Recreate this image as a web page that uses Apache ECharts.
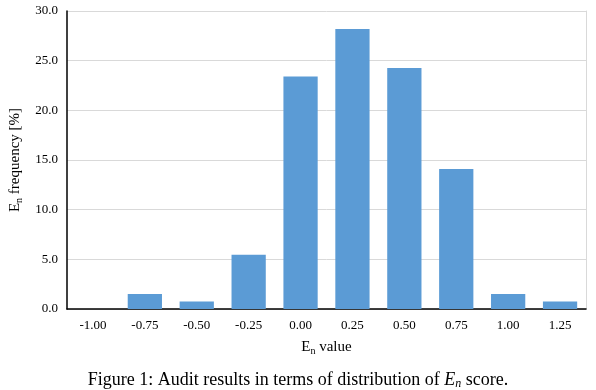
<!DOCTYPE html>
<html><head><meta charset="utf-8">
<script src="https://cdn.jsdelivr.net/npm/echarts@6/dist/echarts.min.js"></script>
<style>html,body{margin:0;padding:0;background:#fff}#c{width:596px;height:390px}</style>
</head><body><div id="c"></div>
<script>
const categories = ['-1.00','-0.75','-0.50','-0.25','0.00','0.25','0.50','0.75','1.00','1.25'];
const frequency = [0, 1.5, 0.75, 5.45, 23.4, 28.2, 24.25, 14.1, 1.5, 0.75];
const yTicks = {min: 0, max: 30, interval: 5};

const font = 'Liberation Serif';
const chart = echarts.init(document.getElementById('c'), null, {renderer: 'canvas'});
chart.setOption({
  animation: false,
  backgroundColor: '#fff',
  textStyle: {fontFamily: font},
  title: {
    text: '{a|Figure 1: Audit results in terms of distribution of }{i|E}{si|n}{a| score.}',
    left: 'center', top: 365,
    textStyle: {
      fontWeight: 'normal',
      rich: {
        a: {fontFamily: font, fontSize: 18, fontWeight: 'normal', color: '#000'},
        i: {fontFamily: font, fontSize: 18, fontWeight: 'normal', fontStyle: 'italic', color: '#000'},
        si: {fontFamily: font, fontSize: 12, fontWeight: 'normal', fontStyle: 'italic', color: '#000', padding: [8, 0, 0, 0]}
      }
    }
  },
  grid: {left: 66, right: 10, top: 11, bottom: 81, containLabel: false},
  xAxis: {
    type: 'category', data: categories,
    axisLine: {lineStyle: {color: '#000', width: 1.5}},
    axisTick: {show: false},
    axisLabel: {color: '#000', fontSize: 13, fontFamily: font, margin: 10},
    name: '{a|E}{s|n}{a| value}',
    nameLocation: 'middle', nameGap: 30,
    nameTextStyle: {rich: {
      a: {fontFamily: font, fontSize: 15, color: '#000'},
      s: {fontFamily: font, fontSize: 10, color: '#000', padding: [7, 0, 0, 0]}
    }}
  },
  yAxis: [{
    type: 'value', min: yTicks.min, max: yTicks.max, interval: yTicks.interval,
    axisLine: {show: true, lineStyle: {color: '#000', width: 1.5}},
    axisTick: {show: false},
    splitLine: {lineStyle: {color: '#d9d9d9'}},
    axisLabel: {color: '#000', fontSize: 13, fontFamily: font, margin: 9,
      formatter: v => v.toFixed(1)},
    name: '{a|E}{s|n}{a| frequency [%]}',
    nameLocation: 'middle', nameGap: 43, nameRotate: 90,
    nameTextStyle: {rich: {
      a: {fontFamily: font, fontSize: 15, color: '#000'},
      s: {fontFamily: font, fontSize: 10, color: '#000', padding: [7, 0, 0, 0]}
    }}
  }, {
    type: 'value', min: yTicks.min, max: yTicks.max, interval: yTicks.interval,
    position: 'right',
    axisLine: {show: true, lineStyle: {color: '#d9d9d9', width: 1}},
    axisTick: {show: false}, axisLabel: {show: false}, splitLine: {show: false}
  }],
  series: [{
    type: 'bar', data: frequency, yAxisIndex: 0,
    barCategoryGap: '34%',
    itemStyle: {color: '#5b9bd5'}
  }]
});
</script></body></html>
